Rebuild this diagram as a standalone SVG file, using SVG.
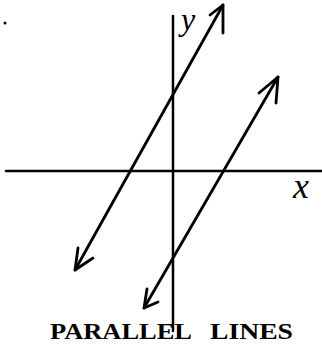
<svg xmlns="http://www.w3.org/2000/svg" width="322" height="345" viewBox="0 0 322 345">
<style>
.ax{stroke:#000;stroke-width:2.5;fill:none;stroke-linecap:round}
.ln{stroke:#000;stroke-width:2.8;fill:none;stroke-linecap:round;stroke-linejoin:round}
.hw{font-family:"Liberation Serif",serif;font-style:italic;fill:#000}
.ttl{font-family:"Liberation Serif",serif;font-weight:bold;fill:#000;font-size:24px}
</style>
<rect width="322" height="345" fill="#fff"/>
<circle cx="5" cy="23" r="1.5" fill="#000"/>
<g id="axes">
<line class="ax" x1="6" y1="171" x2="322" y2="171"/>
<line class="ax" x1="173" y1="16" x2="173" y2="331"/>
</g>
<g id="connectors">
<g id="line1">
<line class="ln" x1="75" y1="270" x2="223" y2="5"/>
<polyline class="ln" points="210,15 223,5 223,33"/>
<polyline class="ln" points="78,248 75,270 93,258"/>
</g>
<g id="line2">
<line class="ln" x1="144" y1="308" x2="278" y2="77"/>
<polyline class="ln" points="259,93 278,77 276,103"/>
<polyline class="ln" points="147,289 144,308 158,302"/>
</g>
</g>
<g id="labels">
<text class="hw" x="181" y="30" font-size="32">y</text>
<text class="hw" x="293" y="198" font-size="36">x</text>
<text class="ttl" x="50" y="339" textLength="142" lengthAdjust="spacingAndGlyphs">PARALLEL</text>
<text class="ttl" x="210" y="339" textLength="83" lengthAdjust="spacingAndGlyphs">LINES</text>
</g>
</svg>
